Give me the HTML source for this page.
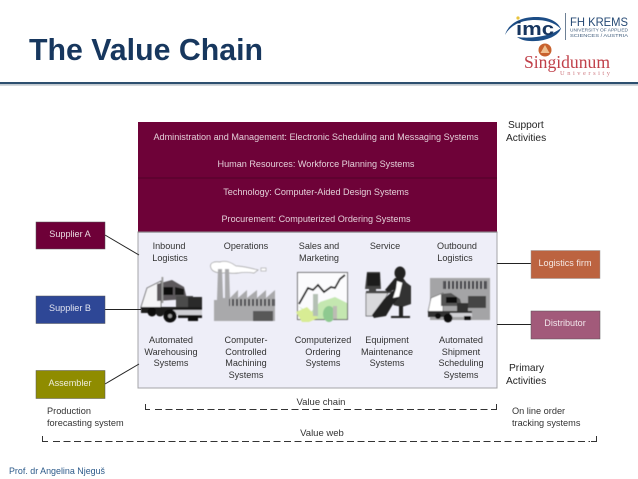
<!DOCTYPE html>
<html><head><meta charset="utf-8"><style>
html,body{margin:0;padding:0;background:#fff;width:638px;height:479px;overflow:hidden}
svg{display:block}
text{font-family:"Liberation Sans",sans-serif}
.w{fill:#e3cfd8;font-size:9.1px;text-anchor:middle}
.b{fill:#fff;font-size:9.1px;text-anchor:middle;opacity:.85}
.d{fill:#333;font-size:9.1px;text-anchor:middle}
.l{fill:#333;font-size:9.2px}
.k{fill:#222;font-size:10.2px}
</style></head><body>
<svg width="638" height="479" viewBox="0 0 638 479" xmlns="http://www.w3.org/2000/svg">
<defs><filter id="bl"><feGaussianBlur stdDeviation="0.45"/></filter><filter id="tb"><feGaussianBlur stdDeviation="0.25"/></filter></defs>
<rect width="638" height="479" fill="#fff"/>
<text x="29" y="60" font-size="31" font-weight="bold" fill="#17375e" textLength="234" lengthAdjust="spacingAndGlyphs">The Value Chain</text>
<rect x="0" y="82" width="638" height="2.2" fill="#2d4f6f"/>
<rect x="0" y="84.2" width="638" height="1.6" fill="#c8ced4"/>
<!-- logos -->
<g filter="url(#tb)">
<path d="M505 35 C508 24 520 17 536 17 C550 17 558 22 561 29 C554 22 545 20 535 20 C520 20 510 26 505 35Z" fill="#1d4d86"/>
<path d="M517 37 C532 39 552 36 561 28 C559 36 545 42 530 41 C524 41 520 39 517 37Z" fill="#1d4d86"/>
<circle cx="518" cy="18" r="1.6" fill="#e8c33c"/>
<text x="516" y="35" font-size="18" font-weight="bold" fill="#17365f" textLength="38" lengthAdjust="spacingAndGlyphs">imc</text>
<rect x="565" y="13" width="1" height="27" fill="#6d8095"/>
<text x="570" y="26" font-size="12" fill="#264a74" textLength="58" lengthAdjust="spacingAndGlyphs">FH KREMS</text>
<text x="570" y="31.500" font-size="4.8" fill="#44607f" textLength="58" lengthAdjust="spacingAndGlyphs">UNIVERSITY OF APPLIED</text>
<text x="570" y="37" font-size="4.8" fill="#44607f" textLength="58" lengthAdjust="spacingAndGlyphs">SCIENCES / AUSTRIA</text>
<circle cx="545" cy="50" r="6.500" fill="#c8622e"/>
<path d="M545 45 L549.500 53 H540.500Z" fill="#f0c090"/>
<text x="524" y="68" font-size="18" fill="#c0404a" style="font-family:'Liberation Serif',serif" textLength="86" lengthAdjust="spacingAndGlyphs">Singidunum</text>
<text x="560" y="75" font-size="6.5" fill="#cf7a80" style="font-family:'Liberation Serif',serif" textLength="50">University</text>
</g>
<!-- panel -->
<rect x="138" y="122" width="359" height="110" fill="#6e0238"/>
<rect x="138" y="177.500" width="359" height="1" fill="#500228"/>
<rect x="138" y="232" width="359" height="156" fill="#eeeef8" stroke="#a4a4a8" stroke-width="1"/>
<rect x="137.500" y="231.500" width="360" height="1.200" fill="#8d8d90"/>
<g filter="url(#tb)">
<text class="w" x="316" y="140">Administration and Management: Electronic Scheduling and Messaging Systems</text>
<text class="w" x="316" y="167">Human Resources: Workforce Planning Systems</text>
<text class="w" x="316" y="195">Technology: Computer-Aided Design Systems</text>
<text class="w" x="316" y="222">Procurement: Computerized Ordering Systems</text>
<text class="d" x="169" y="249">Inbound</text><text class="d" x="170" y="261">Logistics</text>
<text class="d" x="246" y="249">Operations</text>
<text class="d" x="319" y="249">Sales and</text><text class="d" x="319" y="261">Marketing</text>
<text class="d" x="385" y="249">Service</text>
<text class="d" x="457" y="249">Outbound</text><text class="d" x="455" y="261">Logistics</text>
<text class="d" x="171" y="343">Automated</text><text class="d" x="171" y="355">Warehousing</text><text class="d" x="171" y="366">Systems</text>
<text class="d" x="246" y="343">Computer-</text><text class="d" x="246" y="355">Controlled</text><text class="d" x="246" y="366">Machining</text><text class="d" x="246" y="378">Systems</text>
<text class="d" x="323" y="343">Computerized</text><text class="d" x="323" y="355">Ordering</text><text class="d" x="323" y="366">Systems</text>
<text class="d" x="387" y="343">Equipment</text><text class="d" x="387" y="355">Maintenance</text><text class="d" x="387" y="366">Systems</text>
<text class="d" x="461" y="343">Automated</text><text class="d" x="461" y="355">Shipment</text><text class="d" x="461" y="366">Scheduling</text><text class="d" x="461" y="378">Systems</text>
</g>
<!-- connectors -->
<g stroke="#222" stroke-width="1" fill="none">
<path d="M105 235 L139 255"/><path d="M105 309.500 H141"/><path d="M105 384 L139 364"/>
<path d="M497 263.500 H531"/><path d="M497 324.500 H531"/>
</g>
<!-- side boxes -->
<g filter="url(#tb)">
<rect x="36" y="222" width="69" height="27" fill="#6e0238" stroke="#555" stroke-width=".5"/>
<rect x="36" y="296" width="69" height="27.500" fill="#2f4696" stroke="#555" stroke-width=".5"/>
<rect x="36" y="370.500" width="69" height="28" fill="#8f8c06" stroke="#555" stroke-width=".5"/>
<rect x="531" y="250.500" width="69" height="28" fill="#bc6341" stroke="#999" stroke-width=".5"/>
<rect x="531" y="311" width="69" height="28" fill="#a25a7a" stroke="#555" stroke-width=".5"/>
<text class="b" x="70" y="237">Supplier A</text>
<text class="b" x="70" y="311">Supplier B</text>
<text class="b" x="70" y="386">Assembler</text>
<text class="b" x="565" y="266">Logistics firm</text>
<text class="b" x="565" y="326">Distributor</text>
<text class="k" x="508" y="128">Support</text><text class="k" x="506" y="141">Activities</text>
<text class="k" x="509" y="371">Primary</text><text class="k" x="506" y="384">Activities</text>
<text class="l" x="47" y="414">Production</text><text class="l" x="47" y="426">forecasting system</text>
<text class="l" x="512" y="414">On line order</text><text class="l" x="512" y="426">tracking systems</text>
<text class="d" x="321" y="405" style="font-size:9.500px">Value chain</text>
<text class="d" x="322" y="436" style="font-size:9.500px">Value web</text>
</g>
<!-- dashes -->
<g fill="none" stroke="#333" stroke-width="1">
<path d="M145.500 404 V409.500 H150"/><path d="M155 409.500 H490" stroke-dasharray="7 3.500"/><path d="M491 409.500 H496.500 V404"/>
<path d="M42.500 436 V441.500 H48"/><path d="M53 441.500 H590" stroke-dasharray="7 3.500"/><path d="M591 441.500 H596.500 V436"/>
</g>
<text x="9" y="474" font-size="9.300" fill="#2c5a8a" textLength="96" lengthAdjust="spacingAndGlyphs">Prof. dr Angelina Njeguš</text>
<!-- icons -->
<g filter="url(#bl)">
<!-- truck 1 -->
<path d="M141 307 L147 288 L161 281 L161 309 H141Z" fill="#f4f4f6" stroke="#555" stroke-width=".8"/>
<path d="M157 284 L172 280 L184 287 L187 299 L157 301Z" fill="#5c585c"/>
<path d="M162 287 H173 V295 H162Z" fill="#0c0c0c"/><path d="M175 287 L184 289 V295 H175Z" fill="#181818"/>
<rect x="176" y="296" width="17" height="14" fill="#4c4c4c"/>
<rect x="188" y="297" width="14" height="14" fill="#2c2c2c"/>
<rect x="161.500" y="277" width="1.800" height="26" fill="#999"/>
<path d="M141 307 H202 V318 H178 V313 H141Z" fill="#1c1c1c"/>
<rect x="172" y="310" width="30" height="5" fill="#cfcfd4"/>
<circle cx="170" cy="316" r="6.500" fill="#0c0c0c"/><circle cx="170" cy="316" r="2" fill="#999"/>
<circle cx="152" cy="312" r="4.500" fill="#111"/><circle cx="160" cy="312" r="4.500" fill="#1c1c1c"/>
<rect x="188" y="316" width="10" height="5" fill="#111"/>
<!-- factory -->
<path d="M211 268 C209 263 214 261 220 262 C226 260 232 263 236 266 C242 266 250 268 258 270 L254 273 C248 272 244 272 238 273 C232 274 226 272 222 273 C216 273 212 271 211 268Z" fill="#fff" stroke="#999" stroke-width=".7"/>
<rect x="261" y="268" width="5" height="3" fill="#fff" stroke="#999" stroke-width=".6"/>
<path d="M218 269 H222 L223 298 H225 L225 269 H229 L230 298 L238 290 V298 L247 290 V298 L257 290 V298 L266 290 V298 L275 290 V321 H214 V300 H217Z" fill="#a9a9ab"/>
<rect x="229" y="299" width="46" height="7" fill="#5f5f62"/>
<path d="M231 299 V306 M235 299 V306 M239 299 V306 M243 299 V306 M247 299 V306 M251 299 V306 M255 299 V306 M259 299 V306 M263 299 V306 M267 299 V306 M271 299 V306" stroke="#ccc" stroke-width="1"/>
<rect x="253" y="311" width="20" height="10" fill="#595959"/>
<!-- chart -->
<rect x="297.500" y="272.500" width="50" height="47" fill="#fbfbfd" stroke="#666" stroke-width="1"/>
<path d="M299 304 L308 288 L313 290 L318 285 L324 292 L331 287 L335 288 L340 279 L345 275" fill="none" stroke="#111" stroke-width="1.800"/>
<path d="M298 306 L310 313 L320 302 L335 297 L347 303 V319 H314Z" fill="#c4e7b0"/>
<path d="M296 312 L307 307 L318 318 L309 322 H302Z" fill="#d8ec94"/>
<rect x="313" y="294" width="5" height="22" fill="#b4c0b4"/>
<ellipse cx="329" cy="314" rx="6" ry="8" fill="#8ec990"/>
<rect x="333" y="306" width="4" height="13" fill="#bcbcb4"/>
<!-- person -->
<path d="M367 272 H380 L381 289 H365Z" fill="#444"/>
<rect x="367" y="273" width="13" height="13" fill="#1c1c1c"/>
<path d="M369 289 H376 V292 H369Z M366 291 H393 V293 H366Z" fill="#444"/>
<path d="M366 293 H388 L376 316 H366Z" fill="#d9d9dc" stroke="#555" stroke-width=".7"/>
<ellipse cx="400" cy="273" rx="5.500" ry="6.500" fill="#222"/>
<path d="M395 278 L403 278 L411 289 L409 303 L393 304 L386 316 L374 318 L372 315 L384 299 L394 290 L388 292 L385 290Z" fill="#222"/>
<path d="M397 281 L403 283 L402 296 L393 298 L396 289 Z" fill="#fff"/>
<path d="M403 280 L411 286 L411 304 L402 307 L393 305 L399 297Z" fill="#333"/>
<path d="M399 306 H403 V316 H410 V318 H391 V316 H399Z" fill="#222"/>
<!-- warehouse truck -->
<rect x="430" y="278" width="60" height="42" fill="#a4a4a6"/>
<rect x="443" y="281" width="44" height="8" fill="#515154"/>
<path d="M447 281 V289 M451 281 V289 M455 281 V289 M459 281 V289 M463 281 V289 M467 281 V289 M471 281 V289 M475 281 V289 M479 281 V289 M483 281 V289" stroke="#ccc" stroke-width="1"/>
<rect x="468" y="296" width="18" height="12" fill="#444"/>
<path d="M428 312 L431 298 L443 293 V312Z" fill="#fff" stroke="#555" stroke-width=".6"/>
<path d="M441 294 L451 293 L460 299 L462 306 H441Z" fill="#555"/><rect x="446" y="297" width="11" height="6" fill="#111"/>
<rect x="457" y="303" width="11" height="9" fill="#333"/>
<path d="M428 311 H472 V317 H428Z" fill="#333"/><rect x="450" y="313" width="22" height="4" fill="#d0d0d4"/>
<circle cx="448" cy="318" r="4.500" fill="#111"/><circle cx="438" cy="316" r="3" fill="#111"/>
<rect x="464" y="316" width="7" height="4" fill="#111"/>
</g>
</svg>
</body></html>
